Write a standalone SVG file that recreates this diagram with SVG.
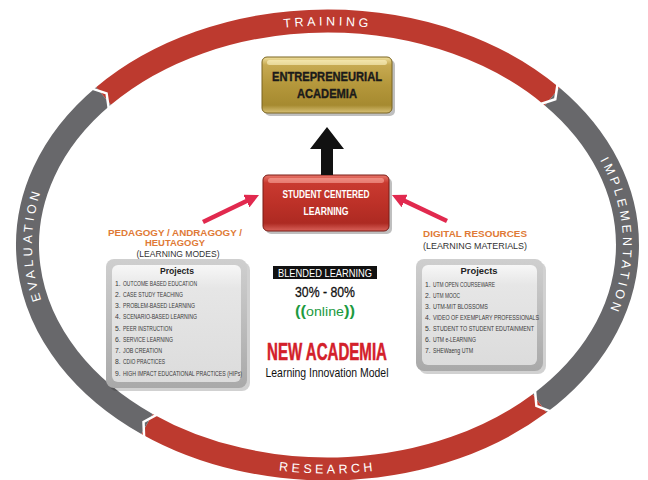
<svg xmlns="http://www.w3.org/2000/svg" width="648" height="480" viewBox="0 0 648 480">
<defs>
<style>
.ring{fill:none;stroke-width:23}
.red{stroke:#bd3a2f}
.gray{stroke:#68686b}
.sep{fill:none;stroke:#ffffff;stroke-width:2.5;stroke-linejoin:miter}
.ringtxt{font-family:"Liberation Sans",Arial,sans-serif;font-size:12.5px;fill:#ffffff;letter-spacing:3.5px}
.hd{font-family:"Liberation Sans Narrow","Liberation Sans",Arial,sans-serif;font-weight:bold;text-anchor:middle}
.or{font-family:"Liberation Sans",Arial,sans-serif;font-weight:bold;font-size:9.8px;fill:#e07a36;text-anchor:middle}
.sub{font-family:"Liberation Sans",Arial,sans-serif;font-size:9.8px;fill:#333333;text-anchor:middle}
.it{font-family:"Liberation Sans Narrow","Liberation Sans",Arial,sans-serif;font-size:6.8px;fill:#3a3a3a}
.pt{font-family:"Liberation Sans",Arial,sans-serif;font-weight:bold;font-size:9.5px;fill:#222222;text-anchor:middle}
.pink{stroke:#e1294e;stroke-width:4.5;fill:none}
</style>
<linearGradient id="gold" x1="0" y1="0" x2="0" y2="1">
<stop offset="0" stop-color="#f1e1a0"/><stop offset="0.14" stop-color="#c7aa52"/><stop offset="0.5" stop-color="#b4973b"/><stop offset="0.86" stop-color="#a68a30"/><stop offset="1" stop-color="#d8c176"/>
</linearGradient>
<linearGradient id="redg" x1="0" y1="0" x2="0" y2="1">
<stop offset="0" stop-color="#e8766b"/><stop offset="0.14" stop-color="#c93a30"/><stop offset="0.5" stop-color="#bd3128"/><stop offset="0.86" stop-color="#ad2a22"/><stop offset="1" stop-color="#d9625a"/>
</linearGradient>
<linearGradient id="panel" x1="0" y1="0" x2="0" y2="1">
<stop offset="0" stop-color="#cfcfcf"/><stop offset="1" stop-color="#a9a9a9"/>
</linearGradient>
<linearGradient id="inner" x1="0" y1="0" x2="0" y2="1">
<stop offset="0" stop-color="#f7f7f7"/><stop offset="0.2" stop-color="#e6e6e6"/><stop offset="1" stop-color="#dcdcdc"/>
</linearGradient>
<marker id="pinkhead" viewBox="0 0 14 14" refX="6" refY="7" markerWidth="14" markerHeight="14" orient="auto" markerUnits="userSpaceOnUse">
<path d="M0,0 L14,7 L0,14 z" fill="#e1294e"/>
</marker>
<path id="pTraining" d="M179.75,54.9 A295.5,219.5 0 0 1 475.25,54.9"/>
<path id="pEval" d="M101.1,386.1 A295.5,219.5 0 0 1 101.1,103.9"/>
<path id="pImpl" d="M553.9,103.9 A295.5,219.5 0 0 1 553.9,386.1"/>
<path id="pResearch" d="M175.25,442.9 A304.5,228.5 0 0 0 479.75,442.9"/>
</defs>
<rect width="648" height="480" fill="#ffffff"/>

<g id="training">
<path class="ring red" d="M103.5,96.0 A300,224 0 0 1 552.2,96.6"/>
<text class="ringtxt"><textPath href="#pTraining" startOffset="50%" text-anchor="middle">TRAINING</textPath></text>
</g>
<g id="implementation">
<path class="ring gray" d="M552.2,96.6 A300,224 0 0 1 539.6,403.4"/>
<text class="ringtxt"><textPath href="#pImpl" startOffset="47%" text-anchor="middle">IMPLEMENTATION</textPath></text>
</g>
<g id="research">
<path class="ring red" d="M539.6,403.4 A300,224 0 0 1 147.0,423.9"/>
<text class="ringtxt"><textPath href="#pResearch" startOffset="50%" text-anchor="middle">RESEARCH</textPath></text>
</g>
<g id="evaluation">
<path class="ring gray" d="M147.0,423.9 A300,224 0 0 1 103.5,96.0"/>
<text class="ringtxt"><textPath href="#pEval" startOffset="50%" text-anchor="middle">EVALUATION</textPath></text>
</g>
<g id="ring-separators">
<polyline class="sep" points="92.08,88.61 106.57,93.43 108.78,108.53"/>
<polyline class="sep" points="557.53,84.08 555.26,99.18 540.75,103.96"/>
<polyline class="sep" points="550.6,411.4 536.4,405.8 535.0,390.6"/>
<polyline class="sep" points="144.1,437.2 143.5,421.9 156.9,414.6"/>
</g>

<g id="entrepreneurial-academia">
<rect x="265" y="60" width="130" height="56" rx="5" fill="#000" opacity="0.25"/>
<rect x="262" y="57" width="130" height="56" rx="5" fill="url(#gold)" stroke="#7a6420" stroke-width="1"/>
<rect x="267" y="60" width="120" height="5" rx="2.5" fill="#fff6c8" opacity="0.6"/>
<text class="hd" x="327" y="81" font-size="13.5" fill="#1a1a1a" stroke="#1a1a1a" stroke-width="0.4" textLength="110" lengthAdjust="spacingAndGlyphs">ENTREPRENEURIAL</text>
<text class="hd" x="327" y="98" font-size="13.5" fill="#1a1a1a" stroke="#1a1a1a" stroke-width="0.4" textLength="60" lengthAdjust="spacingAndGlyphs">ACADEMIA</text>
</g>

<g id="student-centered-learning">
<rect x="266" y="178" width="126" height="56" rx="5" fill="#000" opacity="0.25"/>
<rect x="263" y="175" width="126" height="56" rx="5" fill="url(#redg)" stroke="#7a1c16" stroke-width="1"/>
<rect x="268" y="178" width="116" height="5" rx="2.5" fill="#ffb3a8" opacity="0.55"/>
<text class="hd" x="326" y="198" font-size="11.5" fill="#ffffff" textLength="87" lengthAdjust="spacingAndGlyphs">STUDENT CENTERED</text>
<text class="hd" x="326" y="215" font-size="11.5" fill="#ffffff" textLength="45" lengthAdjust="spacingAndGlyphs">LEARNING</text>
</g>

<g id="pedagogy-label">
<text class="or" x="175" y="236" textLength="134" lengthAdjust="spacingAndGlyphs">PEDAGOGY / ANDRAGOGY /</text>
<text class="or" x="175" y="246" textLength="60" lengthAdjust="spacingAndGlyphs">HEUTAGOGY</text>
<text class="sub" x="178" y="256.5" textLength="83" lengthAdjust="spacingAndGlyphs">(LEARNING MODES)</text>
</g>

<g id="digital-resources-label">
<text class="or" x="475" y="237" textLength="104" lengthAdjust="spacingAndGlyphs">DIGITAL RESOURCES</text>
<text class="sub" x="475" y="249" textLength="104" lengthAdjust="spacingAndGlyphs">(LEARNING MATERIALS)</text>
</g>

<g id="projects-left">
<rect x="109" y="262" width="141" height="129" rx="8" fill="#000" opacity="0.18"/>
<rect x="106" y="259" width="141" height="129" rx="8" fill="url(#panel)"/>
<rect x="112" y="265" width="129" height="117" rx="6" fill="url(#inner)"/>
<text class="pt" x="177" y="274" textLength="34" lengthAdjust="spacingAndGlyphs">Projects</text>
<g class="it">
<text x="115" y="286">1.</text><text x="123" y="286" textLength="74" lengthAdjust="spacingAndGlyphs">OUTCOME BASED EDUCATION</text>
<text x="115" y="297">2.</text><text x="123" y="297" textLength="60" lengthAdjust="spacingAndGlyphs">CASE STUDY TEACHING</text>
<text x="115" y="308">3.</text><text x="123" y="308" textLength="72" lengthAdjust="spacingAndGlyphs">PROBLEM-BASED LEARNING</text>
<text x="115" y="319">4.</text><text x="123" y="319" textLength="74" lengthAdjust="spacingAndGlyphs">SCENARIO-BASED LEARNING</text>
<text x="115" y="330.5">5.</text><text x="123" y="330.5" textLength="49" lengthAdjust="spacingAndGlyphs">PEER INSTRUCTION</text>
<text x="115" y="342">6.</text><text x="123" y="342" textLength="50" lengthAdjust="spacingAndGlyphs">SERVICE LEARNING</text>
<text x="115" y="353">7.</text><text x="123" y="353" textLength="39" lengthAdjust="spacingAndGlyphs">JOB CREATION</text>
<text x="115" y="364">8.</text><text x="123" y="364" textLength="42" lengthAdjust="spacingAndGlyphs">CDIO PRACTICES</text>
<text x="115" y="375.5">9.</text><text x="123" y="375.5" textLength="119" lengthAdjust="spacingAndGlyphs">HIGH IMPACT EDUCATIONAL PRACTICES (HIPs)</text>
</g>
</g>

<g id="projects-right">
<rect x="419" y="262" width="127" height="112" rx="8" fill="#000" opacity="0.18"/>
<rect x="416" y="259" width="127" height="112" rx="8" fill="url(#panel)"/>
<rect x="422" y="265" width="115" height="100" rx="6" fill="url(#inner)"/>
<text class="pt" x="479" y="274" textLength="37" lengthAdjust="spacingAndGlyphs">Projects</text>
<g class="it">
<text x="425" y="287">1.</text><text x="433" y="287" textLength="62" lengthAdjust="spacingAndGlyphs">UTM OPEN COURSEWARE</text>
<text x="425" y="298">2.</text><text x="433" y="298" textLength="27" lengthAdjust="spacingAndGlyphs">UTM MOOC</text>
<text x="425" y="309">3.</text><text x="433" y="309" textLength="55" lengthAdjust="spacingAndGlyphs">UTM-MIT BLOSSOMS</text>
<text x="425" y="320">4.</text><text x="433" y="320" textLength="106" lengthAdjust="spacingAndGlyphs">VIDEO OF EXEMPLARY PROFESSIONALS</text>
<text x="425" y="331">5.</text><text x="433" y="331" textLength="101" lengthAdjust="spacingAndGlyphs">STUDENT TO STUDENT EDUTAINMENT</text>
<text x="425" y="342">6.</text><text x="433" y="342" textLength="43" lengthAdjust="spacingAndGlyphs">UTM e-LEARNING</text>
<text x="425" y="353">7.</text><text x="433" y="353" textLength="40" lengthAdjust="spacingAndGlyphs">SHEWaeng UTM</text>
</g>
</g>

<g id="blended-learning">
<rect x="273" y="266" width="104" height="13" fill="#111111"/>
<text x="325" y="277" font-family="Liberation Sans Narrow,Liberation Sans,Arial,sans-serif" font-size="11.5" fill="#ffffff" text-anchor="middle" textLength="94" lengthAdjust="spacingAndGlyphs">BLENDED LEARNING</text>
<text x="325" y="297" font-family="Liberation Sans Narrow,Liberation Sans,Arial,sans-serif" font-size="15" fill="#111111" stroke="#111111" stroke-width="0.3" text-anchor="middle" textLength="60" lengthAdjust="spacingAndGlyphs">30% - 80%</text>
<text x="325" y="316" font-family="Liberation Sans,Arial,sans-serif" font-size="12" fill="#1d9a3f" text-anchor="middle" textLength="60" lengthAdjust="spacingAndGlyphs"><tspan font-weight="bold" font-size="14">((</tspan>online<tspan font-weight="bold" font-size="14">))</tspan></text>
</g>

<g id="new-academia">
<text class="hd" x="327" y="360" font-size="23" fill="#d3202a" stroke="#d3202a" stroke-width="0.5" textLength="120" lengthAdjust="spacingAndGlyphs">NEW ACADEMIA</text>
<text x="327" y="377" font-family="Liberation Sans Narrow,Liberation Sans,Arial,sans-serif" font-size="13.5" fill="#111111" text-anchor="middle" textLength="123" lengthAdjust="spacingAndGlyphs">Learning Innovation Model</text>
</g>

<g id="connectors">
<polygon points="327,127 344,149 333,149 333,175 321,175 321,149 310,149" fill="#111111"/>
<line class="pink" x1="203" y1="222" x2="251.8" y2="198.5" marker-end="url(#pinkhead)"/>
<line class="pink" x1="447" y1="221" x2="399.2" y2="198.4" marker-end="url(#pinkhead)"/>
</g>
</svg>
